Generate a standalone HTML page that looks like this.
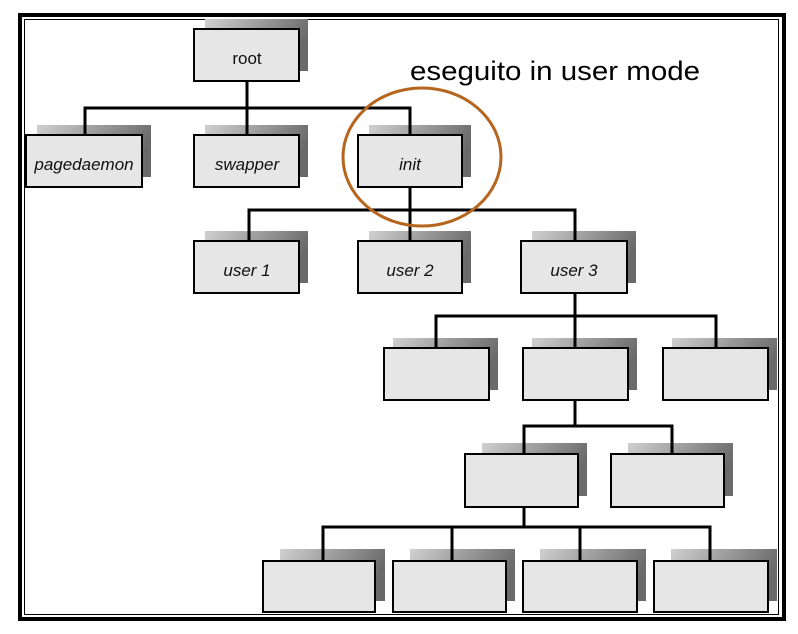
<!DOCTYPE html>
<html><head><meta charset="utf-8"><style>html,body{margin:0;padding:0;background:#fff}svg{display:block}</style></head>
<body>
<svg width="798" height="634" viewBox="0 0 798 634" xmlns="http://www.w3.org/2000/svg" font-family="Liberation Sans, sans-serif">
<defs>
<linearGradient id="g" x1="0" y1="0" x2="1" y2="0.3">
<stop offset="0" stop-color="#d0d0d0"/><stop offset="1" stop-color="#6a6a6a"/>
</linearGradient>
</defs>
<rect x="0" y="0" width="798" height="634" fill="#fff"/>
<rect x="20" y="15" width="764" height="604" fill="none" stroke="#000" stroke-width="4"/>
<rect x="24.5" y="19.5" width="754" height="595" fill="none" stroke="#000" stroke-width="1"/>
<g fill="url(#g)">
<rect x="205" y="19" width="103" height="52"/>
<rect x="37" y="125" width="114" height="52"/>
<rect x="205" y="125" width="103" height="52"/>
<rect x="369" y="125" width="102" height="52"/>
<rect x="205" y="231" width="103" height="52"/>
<rect x="369" y="231" width="102" height="52"/>
<rect x="532" y="231" width="104" height="52"/>
<rect x="393" y="338" width="105" height="52"/>
<rect x="532" y="338" width="105" height="52"/>
<rect x="672" y="338" width="105" height="52"/>
<rect x="482" y="443" width="105" height="53"/>
<rect x="628" y="443" width="105" height="53"/>
<rect x="280" y="549" width="105" height="52"/>
<rect x="410" y="549" width="105" height="52"/>
<rect x="540" y="549" width="106" height="52"/>
<rect x="671" y="549" width="106" height="52"/>
</g>
<g fill="#e6e6e6" stroke="#000" stroke-width="2">
<rect x="194" y="29" width="105" height="52"/>
<rect x="26" y="135" width="116" height="52"/>
<rect x="194" y="135" width="105" height="52"/>
<rect x="358" y="135" width="104" height="52"/>
<rect x="194" y="241" width="105" height="52"/>
<rect x="358" y="241" width="104" height="52"/>
<rect x="521" y="241" width="106" height="52"/>
<rect x="384" y="348" width="105" height="52"/>
<rect x="523" y="348" width="105" height="52"/>
<rect x="663" y="348" width="105" height="52"/>
<rect x="465" y="454" width="113" height="53"/>
<rect x="611" y="454" width="113" height="53"/>
<rect x="263" y="561" width="112" height="51"/>
<rect x="393" y="561" width="113" height="51"/>
<rect x="523" y="561" width="114" height="51"/>
<rect x="654" y="561" width="114" height="51"/>
</g>
<g stroke="#000" stroke-width="3" fill="none">
<path d="M247 81V108M85 135V108H410V135M247 108V135"/>
<path d="M410 187V241M249 241V210H575V241"/>
<path d="M575 293V348M436 348V316H716V348"/>
<path d="M575 400V426M524 454V426H672V454"/>
<path d="M524 507V527M323 561V527H710V561M452 527V561M580 527V561"/>
</g>
<g font-size="17" text-anchor="middle" fill="#111">
<text x="247" y="64">root</text>
<text x="84" y="170" font-style="italic">pagedaemon</text>
<text x="247" y="170" font-style="italic">swapper</text>
<text x="410" y="170" font-style="italic">init</text>
<text x="247" y="276" font-style="italic">user 1</text>
<text x="410" y="276" font-style="italic">user 2</text>
<text x="574" y="276" font-style="italic">user 3</text>
</g>
<ellipse cx="422" cy="157" rx="79" ry="69" fill="none" stroke="#b5651d" stroke-width="3"/>
<text x="410" y="80" font-size="27" fill="#000" textLength="290" lengthAdjust="spacingAndGlyphs">eseguito in user mode</text>
</svg>
</body></html>
